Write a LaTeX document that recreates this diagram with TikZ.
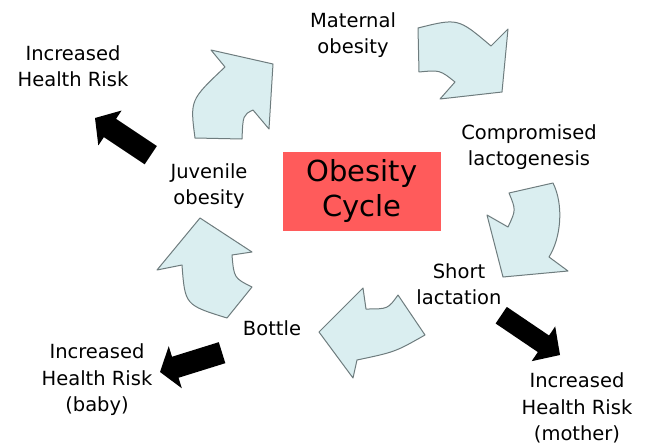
\documentclass[tikz,border=0pt]{standalone}
\usepackage{fontspec}
\setmainfont{DejaVu Sans}
\definecolor{cyanfill}{HTML}{DAEEF0}
\definecolor{edgegrey}{HTML}{6E7C7E}
\definecolor{boxred}{HTML}{FF5B5B}
\begin{document}
\begin{tikzpicture}[x=1pt,y=-1pt,
  cyclearrow/.style={fill=cyanfill, draw=edgegrey, line width=1pt, line join=round},
  riskarrow/.style={fill=black},
  lbl/.style={align=center, font=\fontsize{19.5}{26.5}\selectfont, inner sep=0pt},
  title/.style={align=center, font=\fontsize{29}{35}\selectfont, inner sep=0pt},
]
\useasboundingbox (0,0) rectangle (651,447);

% centre box
\fill[boxred] (283,152) rectangle (441,231);
\node[title] (cycle) at (362,191) {Obesity\\Cycle};

% stage labels
\node[lbl] (maternal) at (353,35) {Maternal\\obesity};
\node[lbl] (lacto) at (529,147) {Compromised\\lactogenesis};
\node[lbl] (short) at (459,284) {Short\\lactation};
\node[lbl] (bottle) at (272,328) {Bottle};
\node[lbl] (juvenile) at (209,186) {Juvenile\\obesity};

% risk labels
\node[lbl] (risktop) at (73,66) {Increased\\Health Risk};
\node[lbl] (riskbaby) at (97,380) {Increased\\Health Risk\\(baby)};
\node[lbl] (riskmother) at (577,408) {Increased\\Health Risk\\(mother)};

% curved cycle arrows
% juvenile -> maternal
\draw[cyclearrow] (195,138) .. controls (190,100) .. (225,67) -- (211,50) -- (273,64)
  -- (269,129) -- (253,110) .. controls (243,115) .. (242,139) -- cycle;
% maternal -> lactogenesis
\draw[cyclearrow] (418,28) .. controls (458,18) .. (491,46) -- (508,29) -- (502,92)
  -- (440,99) -- (455,82) .. controls (440,70) .. (419,72) -- cycle;
% lactogenesis -> short lactation
\draw[cyclearrow] (553,183) .. controls (564,205) and (561,238) .. (549,257) -- (568,271)
  -- (503,277) -- (487,215) -- (508,227) .. controls (516,210) .. (509,193) -- cycle;
% short lactation -> bottle
\draw[cyclearrow] (425,335) .. controls (395,352) .. (357,360) -- (353,378) -- (319,332)
  -- (363,288) -- (366,309) .. controls (388,309) .. (398,295) -- cycle;
% bottle -> juvenile
\draw[cyclearrow] (227,318) .. controls (185,305) .. (182,265) -- (157,270) -- (200,218)
  -- (252,252) -- (232,255) .. controls (234,278) .. (252,287) -- cycle;

% black risk arrows (tip at origin, pointing along -x locally)
\fill[riskarrow, shift={(95,118)}, rotate=-33.7]
  (0,0) -- (18,-21) -- (18,-11) -- (67,-11) -- (67,11) -- (18,11) -- (18,21) -- cycle;
\fill[riskarrow, shift={(160,372)}, rotate=17.3]
  (0,0) -- (16,-22) -- (16,-11) -- (65,-11) -- (65,11) -- (16,11) -- (16,22) -- cycle;
\fill[riskarrow, shift={(560,355)}, rotate=145.9]
  (0,0) -- (20,-21) -- (20,-10) -- (71,-10) -- (71,10) -- (20,10) -- (20,21) -- cycle;
\end{tikzpicture}
\end{document}
